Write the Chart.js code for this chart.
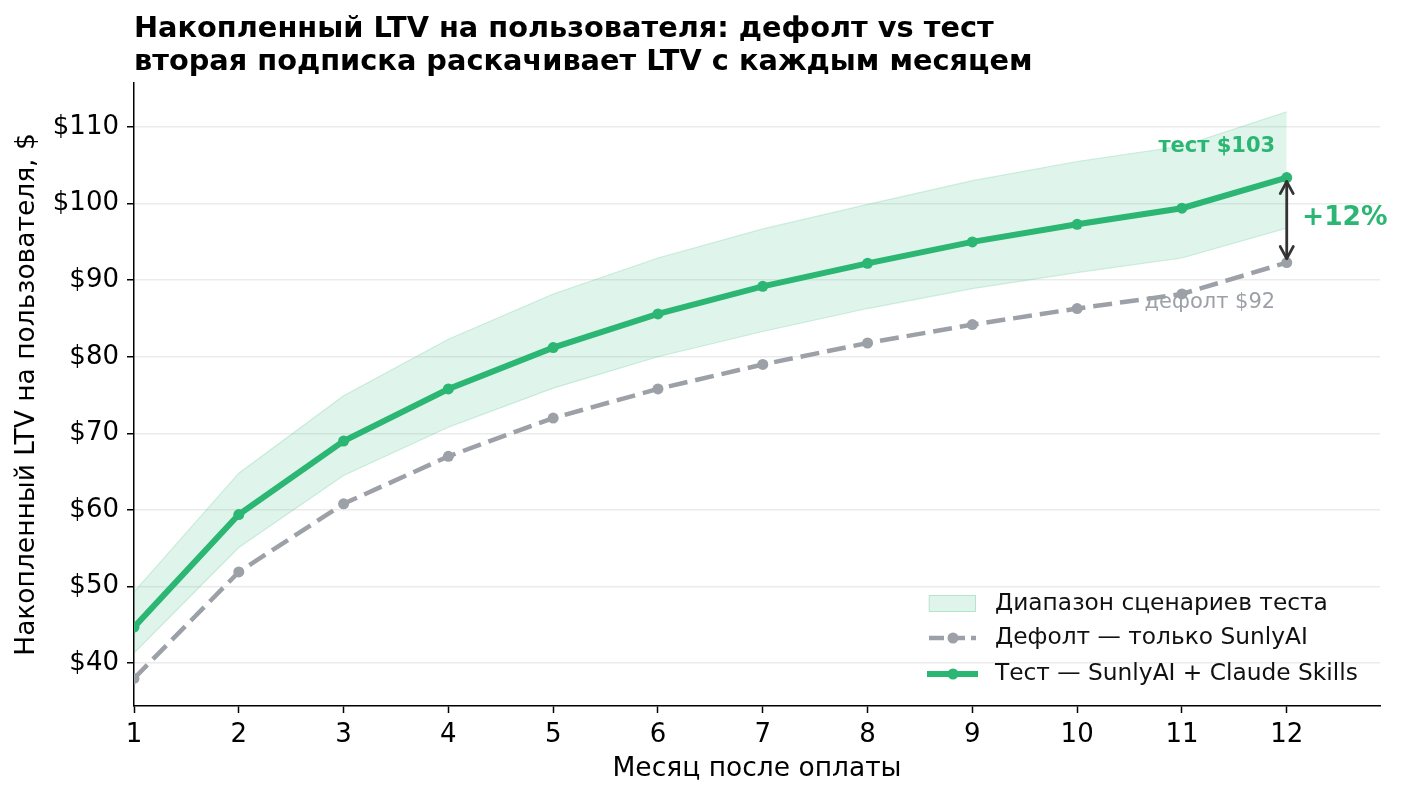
<!DOCTYPE html>
<html><head><meta charset="utf-8">
<script src="https://cdn.jsdelivr.net/npm/chart.js@4/dist/chart.umd.min.js"></script>
<style>html,body{margin:0;padding:0;background:#fff}#wrap{width:1403px;height:799px}</style>
</head><body><div id="wrap"><canvas id="c" width="1403" height="799"></canvas></div>
<script>
const months = [1,2,3,4,5,6,7,8,9,10,11,12];
const testValues = [44.7,59.4,69.0,75.8,81.2,85.6,89.2,92.2,95.0,97.3,99.4,103.4];
const defaultValues = [38.0,51.9,60.8,67.0,72.0,75.8,79.0,81.8,84.2,86.3,88.2,92.3];
const bandUpper = [49.3,64.8,74.9,82.3,88.2,92.9,96.7,99.9,103.0,105.5,107.5,112.0];
const bandLower = [41.3,55.1,64.5,70.8,75.9,80.0,83.3,86.3,88.9,91.0,92.9,96.8];
const yTicks = [40,50,60,70,80,90,100,110];
const xTicks = [1,2,3,4,5,6,7,8,9,10,11,12];
const titleLines = ['Накопленный LTV на пользователя: дефолт vs тест','вторая подписка раскачивает LTV с каждым месяцем'];
const legendLabels = ['Диапазон сценариев теста','Дефолт — только SunlyAI','Тест — SunlyAI + Claude Skills'];
const testLabel = 'тест $103';
const defaultLabel = 'дефолт $92';
const upliftLabel = '+12%';

const GREEN = 'rgb(43,182,115)';
const GRAY = 'rgb(156,160,167)';
const FONT = "'DejaVu Sans', sans-serif";

const pts = (arr)=>months.map((m,i)=>({x:m,y:arr[i]}));

const overlay = {
  id:'overlay',
  afterDatasetsDraw(chart){
    const {ctx, scales:{x,y}} = chart;
    ctx.save();
    // title
    ctx.fillStyle='#000';
    ctx.font = "bold 28.8px "+FONT;
    ctx.textBaseline='alphabetic';
    ctx.textAlign='left';
    ctx.fillText(titleLines[0], 134, 37);
    ctx.fillText(titleLines[1], 134, 70);
    // arrow
    const ax = x.getPixelForValue(12);
    const y1 = y.getPixelForValue(testValues[11]) + 4;
    const y2 = y.getPixelForValue(defaultValues[11]) - 4;
    ctx.strokeStyle='#333'; ctx.lineWidth=2.8; ctx.lineCap='round'; ctx.lineJoin='round';
    ctx.beginPath(); ctx.moveTo(ax,y1); ctx.lineTo(ax,y2); ctx.stroke();
    ctx.beginPath(); ctx.moveTo(ax-6.5,y1+12); ctx.lineTo(ax,y1); ctx.lineTo(ax+6.5,y1+12); ctx.stroke();
    ctx.beginPath(); ctx.moveTo(ax-6.5,y2-12); ctx.lineTo(ax,y2); ctx.lineTo(ax+6.5,y2-12); ctx.stroke();
    // labels
    ctx.textBaseline='middle';
    ctx.textAlign='right';
    ctx.fillStyle=GREEN; ctx.font="bold 21px "+FONT;
    ctx.fillText(testLabel, x.getPixelForValue(11.89), y.getPixelForValue(107.4));
    ctx.fillStyle=GRAY; ctx.font="21px "+FONT;
    ctx.fillText(defaultLabel, x.getPixelForValue(11.89), y.getPixelForValue(87.1));
    ctx.textAlign='left';
    ctx.fillStyle=GREEN; ctx.font="bold 26.5px "+FONT;
    ctx.fillText(upliftLabel, x.getPixelForValue(12.145), y.getPixelForValue(98.1));
    // legend
    const lx = 929, rows=[604,638,674];
    ctx.fillStyle='rgba(43,182,115,0.15)'; ctx.fillRect(lx,595,47,17);
    ctx.strokeStyle='rgba(43,182,115,0.25)'; ctx.lineWidth=1; ctx.strokeRect(lx+0.5,595.5,46,16);
    ctx.lineCap='butt';
    ctx.strokeStyle=GRAY; ctx.lineWidth=4.5; ctx.setLineDash([15,6]);
    ctx.beginPath(); ctx.moveTo(lx,rows[1]); ctx.lineTo(lx+47,rows[1]); ctx.stroke();
    ctx.setLineDash([]);
    ctx.fillStyle=GRAY; ctx.beginPath(); ctx.arc(lx+24,rows[1],5.5,0,Math.PI*2); ctx.fill();
    ctx.strokeStyle=GREEN; ctx.lineWidth=6;
    ctx.beginPath(); ctx.moveTo(lx-2,rows[2]); ctx.lineTo(lx+49,rows[2]); ctx.stroke();
    ctx.fillStyle=GREEN; ctx.beginPath(); ctx.arc(lx+24,rows[2],5.5,0,Math.PI*2); ctx.fill();
    ctx.fillStyle='#111'; ctx.textBaseline='middle'; ctx.font="23.3px "+FONT;
    legendLabels.forEach((t,i)=>ctx.fillText(t, 995, rows[i]));
    ctx.restore();
  }
};

new Chart(document.getElementById('c'), {
  type:'line',
  data:{datasets:[
    {label:'lower', data:pts(bandLower), borderColor:'rgba(43,182,115,0.2)', borderWidth:1.2, pointRadius:0, fill:false, order:3},
    {label:legendLabels[0], data:pts(bandUpper), borderColor:'rgba(43,182,115,0.2)', borderWidth:1.2, pointRadius:0, fill:'-1', backgroundColor:'rgba(43,182,115,0.15)', order:3},
    {label:legendLabels[1], data:pts(defaultValues), borderColor:GRAY, borderWidth:4.5, borderDash:[19,8], pointRadius:5.5, pointBackgroundColor:GRAY, pointBorderWidth:0, order:2},
    {label:legendLabels[2], data:pts(testValues), borderColor:GREEN, borderWidth:6, pointRadius:5.5, pointBackgroundColor:GREEN, pointBorderWidth:0, order:1}
  ]},
  options:{
    responsive:false, animation:false, devicePixelRatio:1,
    layout:{padding:{left:0,right:23,top:83,bottom:0}},
    plugins:{legend:{display:false}, tooltip:{enabled:false}, title:{display:false}},
    elements:{line:{tension:0}},
    scales:{
      x:{type:'linear', min:1, max:12.89,
        afterBuildTicks:(s)=>{s.ticks=xTicks.map(v=>({value:v}));},
        afterFit:(s)=>{s.height=93;},
        grid:{display:true, drawOnChartArea:false, tickLength:7, tickColor:'#000', tickWidth:1.5},
        border:{display:true, color:'#000', width:1.5},
        ticks:{color:'#000', font:{family:FONT,size:26}, padding:7, maxRotation:0, autoSkip:false},
        title:{display:true, text:'Месяц после оплаты', color:'#000', font:{family:FONT,size:26.5}, padding:{top:0,bottom:14}}
      },
      y:{type:'linear', min:34.4, max:115.75,
        afterBuildTicks:(s)=>{s.ticks=yTicks.map(v=>({value:v}));},
        afterFit:(s)=>{s.width=134;},
        grid:{display:true, drawOnChartArea:true, color:'rgba(0,0,0,0.08)', lineWidth:1.5, tickLength:7, tickColor:'#000', tickWidth:1.5},
        border:{display:true, color:'#000', width:1.5},
        ticks:{color:'#000', font:{family:FONT,size:26}, padding:8, callback:(v)=>'$'+v},
        title:{display:true, text:'Накопленный LTV на пользователя, $', color:'#000', font:{family:FONT,size:26.5}, padding:{top:11,bottom:0}}
      }
    }
  },
  plugins:[overlay]
});
</script></body></html>
